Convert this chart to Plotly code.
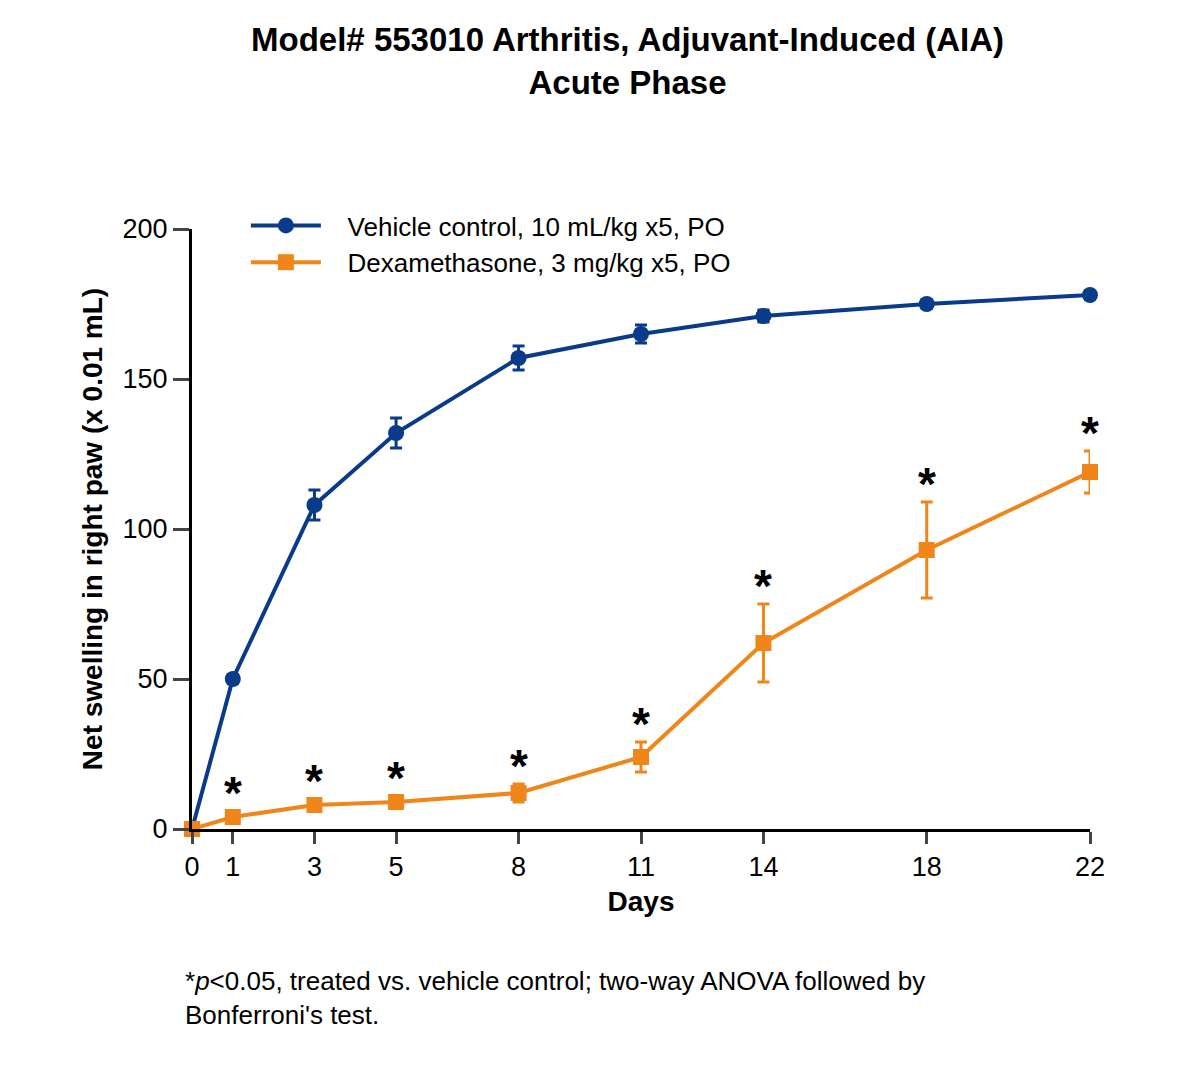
import plotly.graph_objects as go

days = [0, 1, 3, 5, 8, 11, 14, 18, 22]
vehicle = [0, 50, 108, 132, 157, 165, 171, 175, 178]
vehicle_err = [0, 1.5, 5, 5, 4, 3, 2, 1.5, 1.5]
dexa = [0, 4, 8, 9, 12, 24, 62, 93, 119]
dexa_err = [0, 2, 2, 2, 3, 5, 13, 16, 7]
star_days = [1, 3, 5, 8, 11, 14, 18, 22]

BLUE = "#0a3a8a"
ORANGE = "#f08519"
FONT = "Liberation Sans, Arial, sans-serif"

fig = go.Figure()
fig.add_trace(go.Scatter(
    x=days, y=vehicle, name="   Vehicle control, 10 mL/kg x5, PO",
    mode="lines+markers", line=dict(color=BLUE, width=4),
    marker=dict(symbol="circle", size=16, color=BLUE),
    error_y=dict(type="data", array=vehicle_err, color=BLUE, thickness=3, width=6),
    cliponaxis=False))
fig.add_trace(go.Scatter(
    x=days, y=dexa, name="   Dexamethasone, 3 mg/kg x5, PO",
    mode="lines+markers", line=dict(color=ORANGE, width=4),
    marker=dict(symbol="square", size=16, color=ORANGE),
    error_y=dict(type="data", array=dexa_err, color=ORANGE, thickness=3, width=6),
    cliponaxis=False))

for d in star_days:
    i = days.index(d)
    fig.add_annotation(x=d, y=dexa[i] + dexa_err[i], text="<b>*</b>", showarrow=False,
                       yanchor="bottom", yshift=-10,
                       font=dict(size=46, color="black", family=FONT))

fig.update_layout(
    width=1203, height=1087, paper_bgcolor="white", plot_bgcolor="white",
    margin=dict(l=184, r=121, t=221, b=266),
    font=dict(family=FONT, color="black"),
    title=dict(text="<b>Model# 553010 Arthritis, Adjuvant-Induced (AIA)<br>Acute Phase</b>",
               x=0.515, xanchor="center", y=0.96, yanchor="top",
               font=dict(size=33)),
    legend=dict(x=0.06, y=1.045, xanchor="left", yanchor="top",
                font=dict(size=26), bgcolor="rgba(0,0,0,0)", itemwidth=70,
                tracegroupgap=4),
    xaxis=dict(range=[0, 22], tickvals=days, ticks="outside", ticklen=12,
               tickwidth=3, showline=True, linewidth=3, linecolor="black",
               showgrid=False, zeroline=False, tickfont=dict(size=27),
               title=dict(text="<b>Days</b>", font=dict(size=28), standoff=10)),
    yaxis=dict(range=[0, 200], tickvals=[0, 50, 100, 150, 200], ticks="outside",
               ticklen=16, tickwidth=3, showline=True, linewidth=3,
               linecolor="black", showgrid=False, zeroline=False,
               tickfont=dict(size=27),
               title=dict(text="<b>Net swelling in right paw (x 0.01 mL)</b>",
                          font=dict(size=28), standoff=12)),
)
fig.add_annotation(
    xref="paper", yref="paper", x=-0.01, y=-0.225, xanchor="left", yanchor="top",
    align="left", showarrow=False, font=dict(size=26),
    text="*<i>p</i><0.05, treated vs. vehicle control; two-way ANOVA followed by<br>Bonferroni's test.")

fig.write_html("out.html")
